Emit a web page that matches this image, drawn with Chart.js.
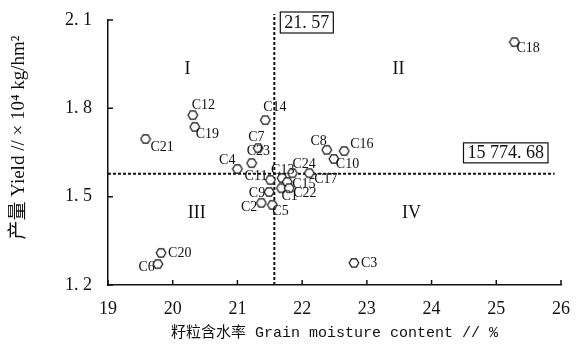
<!DOCTYPE html>
<html>
<head>
<meta charset="utf-8">
<script src="https://cdn.jsdelivr.net/npm/chart.js@4.4.1/dist/chart.umd.min.js"></script>
<style>
  html, body { margin: 0; padding: 0; background: #fff; }
  #wrap { width: 583px; height: 344px; }
</style>
</head>
<body>
<div id="wrap"><canvas id="chart" width="583" height="344"></canvas></div>
<script>
// cultivars C1..C24: grain moisture (%) vs yield (×10^4 kg/hm²)
const cultivars = ['C1','C2','C3','C4','C5','C6','C7','C8','C9','C10','C11','C12',
                   'C13','C14','C15','C16','C17','C18','C19','C20','C21','C22','C23','C24'];
const moisture  = [21.68, 21.37, 22.80, 21.00, 21.54, 19.77, 21.32, 22.38, 21.49, 22.49, 21.51, 20.31,
                   21.69, 21.43, 21.77, 22.65, 22.11, 25.28, 20.34, 19.82, 19.58, 21.80, 21.22, 21.85];
const yieldVals = [1.529, 1.479, 1.275, 1.594, 1.472, 1.271, 1.665, 1.659, 1.516, 1.628, 1.557, 1.777,
                   1.563, 1.760, 1.550, 1.655, 1.580, 2.025, 1.737, 1.309, 1.696, 1.529, 1.614, 1.580];

const xTicks = [19, 20, 21, 22, 23, 24, 25, 26];
const yTicks = [1.2, 1.5, 1.8, 2.1];

const meanMoisture = 21.57;
const meanYield = 1.577468;           // 15 774.68 kg/hm²
const meanMoistureText = '21. 57';
const meanYieldText = '15 774. 68';

const quadrantNames = ['I', 'II', 'III', 'IV'];
const quadrantAt = [[20.23, 1.933], [23.49, 1.933], [20.37, 1.445], [23.69, 1.445]];

// label placement around each marker: [dx, dy, align]
const labelOffset = {
  C1: [0, 8, 'left'],   C2: [-4, 4, 'right'],  C3: [7, 0, 'left'],    C4: [-2, -9, 'right'],
  C5: [0, 6, 'left'],   C6: [-3, 3, 'right'],  C7: [-10, -11, 'left'], C8: [0, -9, 'right'],
  C9: [-4, 1, 'right'], C10: [2, 5, 'left'],   C11: [-3, -4, 'right'], C12: [-1, -10, 'left'],
  C13: [-11, -8, 'left'], C14: [-2, -13, 'left'], C15: [5, 2, 'left'], C16: [6, -7, 'left'],
  C17: [5, 6, 'left'],  C18: [2, 6, 'left'],   C19: [1, 7, 'left'],   C20: [7, 0, 'left'],
  C21: [5, 8, 'left'],  C22: [4, 5, 'left'],   C23: [-5, -12, 'left'], C24: [0, -9, 'left'],
};

const SERIF = '"Liberation Serif", "Times New Roman", "Noto Sans CJK SC", serif';
const MONO = '"Liberation Mono", "Noto Sans CJK SC", monospace';

// hexagon marker
const hexMarker = (() => {
  const c = document.createElement('canvas');
  c.width = c.height = 12;
  const g = c.getContext('2d');
  g.beginPath();
  for (let i = 0; i < 6; i++) {
    const a = Math.PI / 3 * i;
    const px = 6 + 4.8 * Math.cos(a), py = 6 + 4.8 * Math.sin(a);
    i ? g.lineTo(px, py) : g.moveTo(px, py);
  }
  g.closePath();
  g.fillStyle = '#fff';
  g.fill();
  g.lineWidth = 1.2;
  g.strokeStyle = '#111';
  g.stroke();
  return c;
})();

const annotations = {
  id: 'annotations',
  afterDraw(chart) {
    const { ctx, chartArea: a, scales: { x, y } } = chart;
    ctx.save();
    ctx.strokeStyle = '#111';
    ctx.fillStyle = '#111';

    // inward tick marks
    ctx.lineWidth = 1.5;
    ctx.beginPath();
    x.ticks.forEach(t => {
      const px = x.getPixelForValue(t.value);
      ctx.moveTo(px, a.bottom); ctx.lineTo(px, a.bottom - 5);
    });
    y.ticks.forEach(t => {
      const py = y.getPixelForValue(t.value);
      ctx.moveTo(a.left, py); ctx.lineTo(a.left + 5, py);
    });
    ctx.stroke();

    // cultivar labels
    ctx.font = '14px ' + SERIF;
    ctx.textBaseline = 'middle';
    const meta = chart.getDatasetMeta(0);
    meta.data.forEach((pt, i) => {
      const name = cultivars[i];
      const [dx, dy, align] = labelOffset[name];
      ctx.textAlign = align;
      ctx.fillText(name, pt.x + dx, pt.y + dy);
    });

    // quadrant numerals
    ctx.font = '18px ' + SERIF;
    ctx.textAlign = 'center';
    quadrantNames.forEach((q, i) => {
      ctx.fillText(q, x.getPixelForValue(quadrantAt[i][0]), y.getPixelForValue(quadrantAt[i][1]));
    });

    // boxed mean values
    ctx.font = '18px ' + SERIF;
    ctx.lineWidth = 1.2;
    const vx = x.getPixelForValue(meanMoisture) + 6;
    const w1 = ctx.measureText(meanMoistureText).width + 8;
    ctx.strokeRect(vx, a.top - 8, w1, 21);
    ctx.textAlign = 'left';
    ctx.fillText(meanMoistureText, vx + 4, a.top + 3);

    const hy = y.getPixelForValue(meanYield) - 11;
    const w2 = ctx.measureText(meanYieldText).width + 8;
    ctx.strokeRect(a.right - 13 - w2, hy - 20, w2, 20);
    ctx.fillText(meanYieldText, a.right - 13 - w2 + 4, hy - 9.5);

    // axis titles
    ctx.font = '15px ' + MONO;
    ctx.textAlign = 'center';
    ctx.fillText('籽粒含水率 Grain moisture content // %', (a.left + a.right) / 2, a.bottom + 48);

    ctx.translate(19, (a.top + a.bottom) / 2 - 15);
    ctx.rotate(-Math.PI / 2);
    ctx.font = '19px ' + SERIF;
    ctx.fillText('产量 Yield // × 10⁴ kg/hm²', 0, 0);
    ctx.restore();
  }
};

new Chart(document.getElementById('chart'), {
  type: 'scatter',
  data: {
    datasets: [
      {
        label: 'cultivars',
        data: moisture.map((m, i) => ({ x: m, y: yieldVals[i] })),
        pointStyle: hexMarker,
        pointRadius: 5,
        pointHoverRadius: 5,
      },
      {
        label: 'mean moisture',
        data: [{ x: meanMoisture, y: 1.2 }, { x: meanMoisture, y: 2.12 }],
        showLine: true,
        borderColor: '#111',
        borderWidth: 2,
        borderDash: [3, 2],
        pointRadius: 0,
        clip: false,
      },
      {
        label: 'mean yield',
        data: [{ x: 19, y: meanYield }, { x: 25.9, y: meanYield }],
        showLine: true,
        borderColor: '#111',
        borderWidth: 2,
        borderDash: [3, 2],
        pointRadius: 0,
        clip: false,
      },
    ]
  },
  options: {
    responsive: false,
    animation: false,
    events: [],
    layout: { padding: { top: 20, right: 22, left: 0, bottom: 0 } },
    plugins: { legend: { display: false }, tooltip: { enabled: false } },
    scales: {
      x: {
        type: 'linear',
        min: 19, max: 26,
        afterBuildTicks: s => { s.ticks = xTicks.map(v => ({ value: v })); },
        afterFit: s => { s.height = 59; },
        ticks: { color: '#111', font: { size: 18, family: SERIF }, padding: 5 },
        grid: { display: false },
        border: { display: true, color: '#111', width: 1.5 },
      },
      y: {
        type: 'linear',
        min: 1.2, max: 2.1,
        afterBuildTicks: s => { s.ticks = yTicks.map(v => ({ value: v })); },
        afterFit: s => { s.width = 108; },
        ticks: {
          color: '#111', font: { size: 18, family: SERIF }, padding: 8,
          callback: v => v.toFixed(1).replace('.', '. '),
        },
        grid: { display: false },
        border: { display: true, color: '#111', width: 1.5 },
      }
    }
  },
  plugins: [annotations]
});
</script>
</body>
</html>
